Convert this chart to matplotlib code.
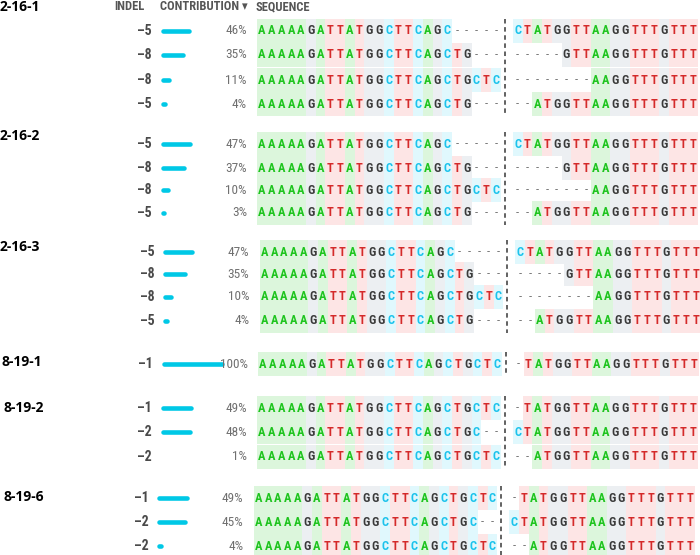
import matplotlib
matplotlib.use("Agg")
import matplotlib.pyplot as plt
from matplotlib.patches import Rectangle

# ---------------- data ----------------
samples = ["2-16-1", "2-16-2", "2-16-3", "8-19-1", "8-19-2", "8-19-6"]
indels = [[-5, -8, -8, -5], [-5, -8, -8, -5], [-5, -8, -8, -5], [-1], [-1, -2, -2], [-1, -2, -2]]
contributions = [[46, 35, 11, 4], [47, 37, 10, 3], [47, 35, 10, 4], [100], [49, 48, 1], [49, 45, 4]]
seq_m5a = "AAAAAGATTATGGCTTCAGC-----|CTATGGTTAAGGTTTGTTT"
seq_m8a = "AAAAAGATTATGGCTTCAGCTG---|-----GTTAAGGTTTGTTT"
seq_m8b = "AAAAAGATTATGGCTTCAGCTGCTC|--------AAGGTTTGTTT"
seq_m5b = "AAAAAGATTATGGCTTCAGCTG---|--ATGGTTAAGGTTTGTTT"
seq_m1 = "AAAAAGATTATGGCTTCAGCTGCTC|-TATGGTTAAGGTTTGTTT"
seq_m2a = "AAAAAGATTATGGCTTCAGCTGC--|CTATGGTTAAGGTTTGTTT"
seq_m2b = "AAAAAGATTATGGCTTCAGCTGCTC|--ATGGTTAAGGTTTGTTT"
sequences = [
    [seq_m5a, seq_m8a, seq_m8b, seq_m5b],
    [seq_m5a, seq_m8a, seq_m8b, seq_m5b],
    [seq_m5a, seq_m8a, seq_m8b, seq_m5b],
    [seq_m1],
    [seq_m1, seq_m2a, seq_m2b],
    [seq_m1, seq_m2a, seq_m2b],
]
headers = ["INDEL", "CONTRIBUTION \u25be", "SEQUENCE"]

# ---------------- layout / style ----------------
row_y = [[31, 55, 80, 104], [144, 168, 190, 213], [252, 274, 297, 321], [364], [408, 432, 457], [498, 522, 546]]
label_y = [7, 136, 247, 362, 408, 497]
label_x = [0, 0, 0, 2, 3, 3]
group_dx = [0, 0, 2.5, 1, 0, -3.5]

indel_right = 152
bar_start = 162.5
bar_full = 58
pct_right = 247
seq_x0 = 257
cell_w = 9.75
cut_gap = 12
cell_h = 24

letter_col = {"A": "#1ec41e", "T": "#d42a2a", "G": "#3a3a3a", "C": "#1cc3ec", "-": "#777777"}
bg_col = {"A": "#dcf6dc", "T": "#fde5e5", "G": "#eceff2", "C": "#e0f8fd"}
bar_color = "#00c8e6"

narrow = ["Roboto Condensed", "Liberation Sans Narrow", "DejaVu Sans"]

fig = plt.figure(figsize=(7.0, 5.55), dpi=100)
ax = fig.add_axes([0, 0, 1, 1])
ax.set_xlim(0, 700)
ax.set_ylim(555, 0)
ax.axis("off")

# headers
hdr_kw = dict(ha="left", va="center", fontsize=9, fontweight="bold", color="#555555",
              family=narrow, fontstretch="condensed")
ax.text(114, 7, headers[0], **hdr_kw)
ax.text(160, 7, headers[1], **hdr_kw)
ax.text(256, 7, headers[2], **hdr_kw)

for g, name in enumerate(samples):
    dx = group_dx[g]
    ax.text(label_x[g], label_y[g], name, ha="left", va="center", fontsize=10,
            fontweight="bold", color="black", family=["Open Sans", "DejaVu Sans"])
    ys = row_y[g]
    for r, y in enumerate(ys):
        ind = indels[g][r]
        ax.text(indel_right + dx, y, "\u2013" + str(abs(ind)), ha="right", va="center",
                fontsize=10, fontweight="bold", color="#4a4a4a", family=narrow,
                fontstretch="condensed")
        c = contributions[g][r]
        ax.plot([bar_start + dx, bar_start + dx + c / 100 * bar_full], [y, y],
                color=bar_color, lw=3.3, solid_capstyle="round")
        ax.text(pct_right + dx, y, f"{c}%", ha="right", va="center", fontsize=9.5,
                color="#707070", family=narrow, fontstretch="condensed")
        left, right = sequences[g][r].split("|")
        xs0 = seq_x0 + dx
        positions = []
        for i, ch in enumerate(left):
            positions.append((xs0 + i * cell_w, ch))
        rx0 = xs0 + len(left) * cell_w + cut_gap
        for i, ch in enumerate(right):
            positions.append((rx0 + i * cell_w, ch))
        for x, ch in positions:
            if ch != "-":
                ax.add_patch(Rectangle((x, y - cell_h / 2), cell_w, cell_h,
                                       facecolor=bg_col[ch], edgecolor="none", zorder=1))
            ax.text(x + cell_w / 2, y, ch, ha="center", va="center", fontsize=9,
                    fontweight="bold" if ch != "-" else "normal",
                    color=letter_col[ch], family=narrow, fontstretch="condensed", zorder=3)
    # cut line
    cx = seq_x0 + dx + 25 * cell_w + 4
    ax.plot([cx, cx], [ys[0] - cell_h / 2, ys[-1] + cell_h / 2], color="#555555",
            lw=1.3, ls=(0, (2.5, 2)), zorder=4)

fig.savefig("out.png", dpi=100)
